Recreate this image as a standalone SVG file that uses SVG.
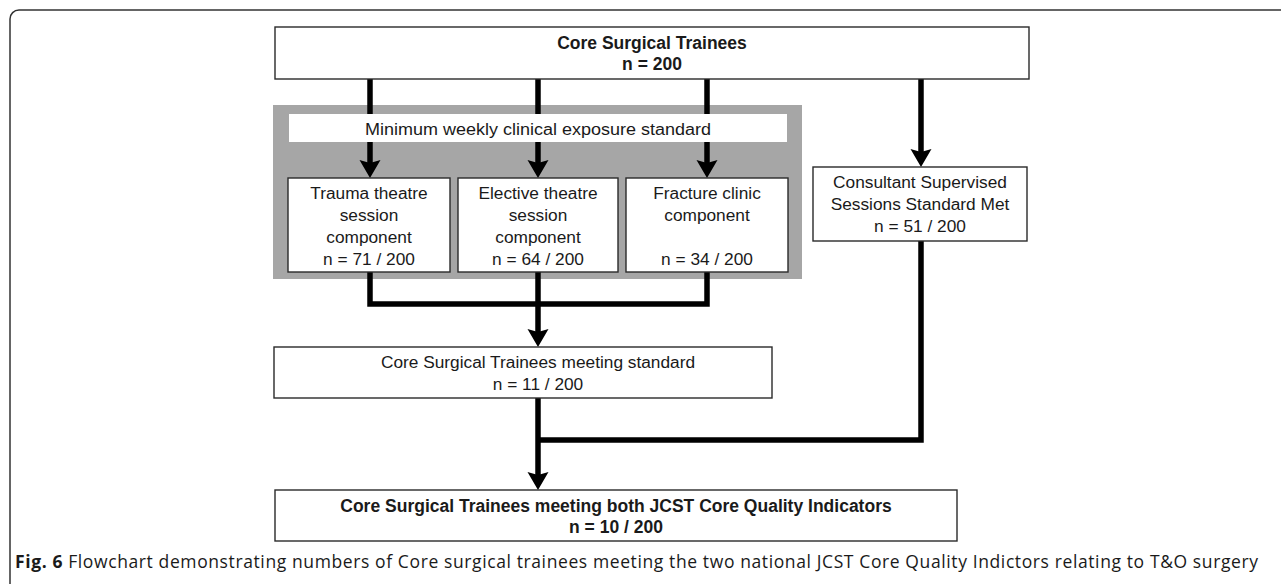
<svg xmlns="http://www.w3.org/2000/svg" width="1281" height="584" viewBox="0 0 1281 584">
<style>
.box{fill:#fff;stroke:#2a2a2a;stroke-width:1.4}
.t{font-family:"Liberation Sans",Arial,Helvetica,sans-serif;font-size:17.3px;fill:#1a1a1a;text-anchor:middle}
.b{font-weight:bold;font-size:17.5px}
.c{fill:none;stroke:#000;stroke-width:5.5;stroke-linejoin:miter;stroke-linecap:butt}
.cap{font-family:"Open Sans","Noto Sans",sans-serif;font-size:17.5px;fill:#1a1a1a}
</style>
<defs>
<marker id="ah" markerUnits="userSpaceOnUse" viewBox="0 -11 20 22" markerWidth="20" markerHeight="22" refX="8" refY="0" orient="auto">
<path d="M0,-10.5 L18,0 L0,10.5 L3,0 Z" fill="#000"/>
</marker>
</defs>
<rect x="10" y="10" width="1290" height="600" rx="9" fill="none" stroke="#333" stroke-width="1.5"/>
<rect id="exposure-area" x="273" y="105" width="529" height="174" fill="#a6a6a6"/>
<g id="connectors">
<path class="c" d="M370,79 V168" marker-end="url(#ah)"/>
<path class="c" d="M538,79 V168" marker-end="url(#ah)"/>
<path class="c" d="M707,79 V168" marker-end="url(#ah)"/>
<path class="c" d="M921,79 V157" marker-end="url(#ah)"/>
<path class="c" d="M370,272 V304 H707 V272"/>
<path class="c" d="M538,272 V337" marker-end="url(#ah)"/>
<path class="c" d="M921,241 V440 H538"/>
<path class="c" d="M538,398 V480" marker-end="url(#ah)"/>
</g>
<g id="exposure-label">
<rect x="289" y="114" width="498" height="28" fill="#fff"/>
<text class="t" x="538" y="134.5" font-size="17.8" textLength="346" lengthAdjust="spacingAndGlyphs">Minimum weekly clinical exposure standard</text>
</g>
<g id="top">
<rect class="box" x="275" y="27" width="754" height="52"/>
<text class="t b" x="652" y="49">Core Surgical Trainees</text>
<text class="t b" x="652" y="70">n = 200</text>
</g>
<g id="trauma">
<rect class="box" x="288" y="178" width="162" height="94"/>
<text class="t" x="369" y="199">Trauma theatre</text>
<text class="t" x="369" y="221">session</text>
<text class="t" x="369" y="243">component</text>
<text class="t" x="369" y="265">n = 71 / 200</text>
</g>
<g id="elective">
<rect class="box" x="458" y="178" width="160" height="94"/>
<text class="t" x="538" y="199">Elective theatre</text>
<text class="t" x="538" y="221">session</text>
<text class="t" x="538" y="243">component</text>
<text class="t" x="538" y="265">n = 64 / 200</text>
</g>
<g id="fracture">
<rect class="box" x="626" y="178" width="162" height="94"/>
<text class="t" x="707" y="199">Fracture clinic</text>
<text class="t" x="707" y="221">component</text>
<text class="t" x="707" y="265">n = 34 / 200</text>
</g>
<g id="consultant">
<rect class="box" x="813" y="167" width="214" height="74"/>
<text class="t" x="920" y="188">Consultant Supervised</text>
<text class="t" x="920" y="210">Sessions Standard Met</text>
<text class="t" x="920" y="232">n = 51 / 200</text>
</g>
<g id="meeting">
<rect class="box" x="274" y="347" width="498" height="51"/>
<text class="t" x="538" y="368">Core Surgical Trainees meeting standard</text>
<text class="t" x="538" y="390">n = 11 / 200</text>
</g>
<g id="both">
<rect class="box" x="275" y="490" width="682" height="51"/>
<text class="t b" x="616" y="512">Core Surgical Trainees meeting both JCST Core Quality Indicators</text>
<text class="t b" x="616" y="533">n = 10 / 200</text>
</g>
<text class="cap" x="15" y="568" textLength="1243" lengthAdjust="spacing"><tspan font-weight="bold">Fig. 6</tspan> Flowchart demonstrating numbers of Core surgical trainees meeting the two national JCST Core Quality Indictors relating to T&amp;O surgery</text>
</svg>
